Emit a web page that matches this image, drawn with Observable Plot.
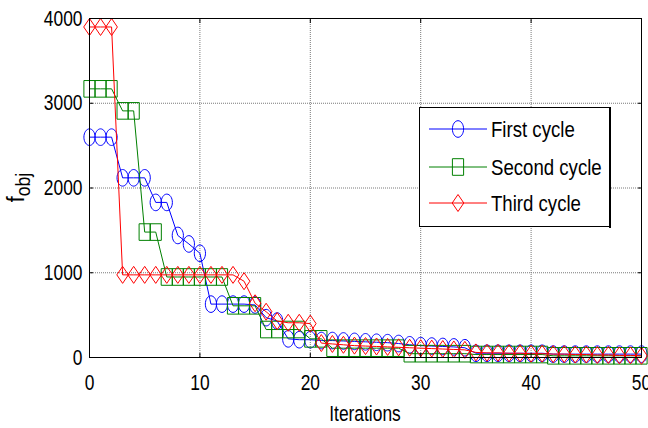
<!DOCTYPE html>
<html><head><meta charset="utf-8">
<script src="https://cdn.jsdelivr.net/npm/d3@7"></script>
<script src="https://cdn.jsdelivr.net/npm/@observablehq/plot@0.6"></script>
<style>
body{margin:0;background:#fff;}
#wrap{position:relative;width:648px;height:428px;}
#legend{position:absolute;left:419px;top:107px;}
</style></head><body><div id="wrap"></div>
<script>
const iterations = d3.range(0, 51);
const firstCycle = [2600,2600,2600, 2120,2120,2120, 1830,1830, 1440, 1340, 1230,
  630,630,630,630,620, 470, 430, 220,210,210,
  200,200,195,190,185,180,175,165,
  150,140,135,130,125,115,
  50,50,50,50,50,50,50,
  40,40,40,40,40,40,40,40,40];
const secondCycle = [3170,3170,3170, 2910,2910, 1480,1480,
  950,950,950,950,950,950, 610,610,610, 330,330,330,330, 220,220,
  110,110,110,110,110,110,110,
  45,45,45,45,45,45,
  35,35,35,35,35,35,35,
  20,20,20,20,20,20,20,20,20];
const thirdCycle = [3900,3900,3900,
  975,975,975,975,975,975,975,975,975,975,975,
  900, 640, 540, 430, 410,410,400,
  170,160,150,140,135,130,125,120,115,110,105,100,95,90,
  60,55,55,50,50,45,45,40,40,35,35,30,30,25,25,20];
const xTicks = [0, 10, 20, 30, 40, 50];
const yTicks = [0, 1000, 2000, 3000, 4000];
const seriesNames = ["First cycle", "Second cycle", "Third cycle"];
const seriesColors = ["#0000ff", "#008000", "#ff0000"];
const seriesValues = [firstCycle, secondCycle, thirdCycle];

const FONT = '"Liberation Sans",Arial,sans-serif';
const SX = 0.79; // horizontal compression of the reference's text

function ellipseSym(rx, ry) {
  return {draw(ctx) {
    const k = 0.5523;
    ctx.moveTo(rx, 0);
    ctx.bezierCurveTo(rx, k*ry, k*rx, ry, 0, ry);
    ctx.bezierCurveTo(-k*rx, ry, -rx, k*ry, -rx, 0);
    ctx.bezierCurveTo(-rx, -k*ry, -k*rx, -ry, 0, -ry);
    ctx.bezierCurveTo(k*rx, -ry, rx, -k*ry, rx, 0);
    ctx.closePath();
  }};
}
function squareSym(rx, ry) {
  return {draw(ctx) {
    ctx.moveTo(-rx, -ry); ctx.lineTo(rx, -ry); ctx.lineTo(rx, ry); ctx.lineTo(-rx, ry); ctx.closePath();
  }};
}
function diamondSym(rx, ry) {
  return {draw(ctx) {
    ctx.moveTo(0, -ry); ctx.lineTo(rx, 0); ctx.lineTo(0, ry); ctx.lineTo(-rx, 0); ctx.closePath();
  }};
}
const symbols = [ellipseSym(5.6, 8.3), squareSym(5.6, 8.3), diamondSym(5.8, 8.5)];

const rows = [];
seriesValues.forEach((vals, s) => {
  iterations.forEach((it, i) => rows.push({series: seriesNames[s], it, v: vals[i]}));
});

const dataMarks = [];
seriesNames.forEach((name, s) => {
  const d = rows.filter(r => r.series === name);
  dataMarks.push(Plot.line(d, {x: "it", y: "v", stroke: seriesColors[s], strokeWidth: 1}));
  dataMarks.push(Plot.dot(d, {x: "it", y: "v", symbol: symbols[s], r: 6, stroke: seriesColors[s], fill: "none", strokeWidth: 1}));
});

const chart = Plot.plot({
  width: 648, height: 428,
  marginLeft: 89, marginRight: 7, marginTop: 18, marginBottom: 71,
  style: {fontFamily: FONT, fontSize: "22px", color: "#000", background: "#fff"},
  x: {domain: [0, 50]},
  y: {domain: [0, 4000]},
  marks: [
    Plot.gridX(xTicks.slice(1, -1), {stroke: "#7a7a7a", strokeOpacity: 1, strokeDasharray: "1,1"}),
    Plot.gridY(yTicks.slice(1, -1), {stroke: "#7a7a7a", strokeOpacity: 1, strokeDasharray: "1,1"}),
    ...dataMarks,
    Plot.frame({stroke: "#000", strokeWidth: 1}),
    Plot.axisX(xTicks, {anchor: "bottom", tickSize: -4, tickPadding: 21, label: null, fontSize: 22, tickFormat: d3.format("d")}),
    Plot.axisX(xTicks, {anchor: "top", tickSize: -4, tickFormat: () => "", label: null}),
    Plot.axisY(yTicks, {anchor: "left", tickSize: -4, tickPadding: 11, label: null, fontSize: 22, tickFormat: d3.format("d")}),
    Plot.axisY(yTicks, {anchor: "right", tickSize: -4, tickFormat: () => "", label: null})
  ]
});

document.getElementById("wrap").appendChild(chart);
const svg = d3.select(chart);
// compress axis text horizontally like the reference
svg.selectAll("text").each(function() {
  const t = this.getAttribute("transform") || "";
  this.setAttribute("transform", t + ` scale(${SX},1)`);
});
const xs = chart.scale("x"), ys = chart.scale("y");

// x label
svg.append("text")
  .attr("transform", `translate(${(xs.apply(0) + xs.apply(50)) / 2},421) scale(${SX},1)`)
  .attr("text-anchor", "middle")
  .attr("font-family", FONT).attr("font-size", 22).attr("fill", "#000")
  .text("Iterations");

// y label f_obj
const yl = svg.append("text")
  .attr("transform", `translate(24,${(ys.apply(0) + ys.apply(4000)) / 2}) rotate(-90) scale(0.88,1)`)
  .attr("text-anchor", "middle")
  .attr("font-family", FONT).attr("fill", "#000");
yl.append("tspan").attr("font-size", 24).text("f");
yl.append("tspan").attr("font-size", 20).attr("dy", 6).text("obj");

// legend
const lg = d3.select("#wrap").append("svg").attr("id", "legend")
  .attr("width", 193).attr("height", 121);
lg.append("rect").attr("x", 0.5).attr("y", 0.5).attr("width", 190).attr("height", 119)
  .attr("fill", "#fff").attr("stroke", "#000");
lg.append("line").attr("x1", 191).attr("x2", 191).attr("y1", 0).attr("y2", 121).attr("stroke", "#000").attr("stroke-width", 2);
const rowY = [22, 60, 96];
seriesNames.forEach((name, s) => {
  const g = lg.append("g").attr("transform", `translate(0,${rowY[s]})`);
  g.append("line").attr("x1", 10).attr("x2", 68).attr("y1", 0).attr("y2", 0)
    .attr("stroke", seriesColors[s]).attr("stroke-width", 1);
  const p = d3.path(); symbols[s].draw(p, 0);
  g.append("path").attr("d", p.toString()).attr("transform", "translate(39,0)")
    .attr("fill", "none").attr("stroke", seriesColors[s]);
  g.append("text").attr("transform", `translate(72,8) scale(0.81,1)`).attr("font-family", FONT).attr("font-size", 23)
    .attr("fill", "#000").text(name);
});
</script></body></html>
